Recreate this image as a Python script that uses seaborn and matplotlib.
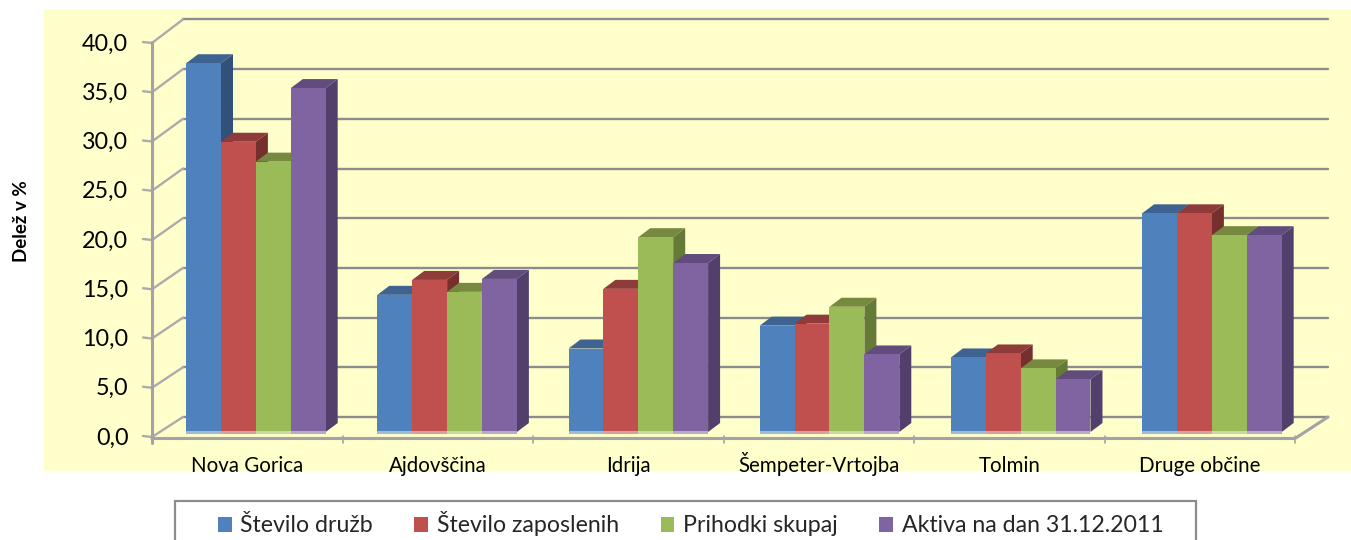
import matplotlib
matplotlib.use("Agg")
import matplotlib.pyplot as plt
import matplotlib.transforms as mtransforms
import pandas as pd
import seaborn as sns
from matplotlib.colors import to_rgb
from matplotlib.lines import Line2D
from matplotlib.patches import Patch, Polygon, Rectangle

W, H = 1351, 540

categories = ["Nova Gorica", "Ajdovščina", "Idrija", "Šempeter-Vrtojba", "Tolmin", "Druge občine"]
series_names = ["Število družb", "Število zaposlenih", "Prihodki skupaj", "Aktiva na dan 31.12.2011"]
stevilo_druzb = [37.1, 13.8, 8.4, 10.7, 7.5, 22.0]
stevilo_zaposlenih = [29.2, 15.3, 14.4, 10.9, 7.9, 22.0]
prihodki_skupaj = [27.2, 14.1, 19.6, 12.6, 6.4, 19.8]
aktiva = [34.6, 15.4, 17.0, 7.8, 5.3, 19.8]
y_ticks = [0, 5, 10, 15, 20, 25, 30, 35, 40]
y_tick_labels = ["0,0", "5,0", "10,0", "15,0", "20,0", "25,0", "30,0", "35,0", "40,0"]

front_colors = ["#4F81BD", "#C0504D", "#9BBB59", "#8064A2"]
top_colors = ["#3E6391", "#8E3B39", "#76893F", "#614C7D"]
side_colors = ["#325178", "#772F2D", "#667A38", "#533F6B"]
grid_grey = "#8C8C8C"
axis_grey = "#A3A3A3"

sns.set_style("white")
plt.rcParams["font.family"] = ["Lato", "DejaVu Sans"]

df = pd.DataFrame({"obcina": categories, series_names[0]: stevilo_druzb, series_names[1]: stevilo_zaposlenih,
                   series_names[2]: prihodki_skupaj, series_names[3]: aktiva})
df = df.melt(id_vars="obcina", var_name="serija", value_name="delez")


def px_box(left, top, right, bottom):
    # pixel box (from top left of the image) to figure fractions
    return [left / W, 1 - bottom / H, (right - left) / W, (bottom - top) / H]


def px(x, y):
    # pixel from top left to display coords
    return (x, H - y)


fig = plt.figure(figsize=(W / 100, H / 100), dpi=100, facecolor="white")
fig.patches.append(Rectangle((44 / W, 1 - 471 / H), (W - 44) / W, 462 / H, transform=fig.transFigure,
                             facecolor="#FFFFCC", edgecolor="none", zorder=-5))

# front axis: labels, ticks
ax_front = fig.add_axes(px_box(152, 42, 1295, 436))
ax_front.patch.set_visible(False)
ax_front.set_xlim(-0.5, 5.5)
ax_front.set_ylim(0, 40)
ax_front.set_xticks(range(len(categories)))
ax_front.set_xticklabels(categories, fontsize=14.8, color="black", va="baseline")
ax_front.set_yticks(y_ticks)
ax_front.set_yticklabels(y_tick_labels, fontsize=16.8, color="black")
ax_front.tick_params(axis="y", length=0, pad=17)
ax_front.tick_params(axis="x", length=0, pad=26)
for s in ax_front.spines.values():
    s.set_visible(False)
ax_front.set_ylabel("Delež v %", fontsize=13.5, fontweight="bold", color="black", labelpad=0)
ax_front.yaxis.set_label_coords((30 - 152) / (1295 - 152), (436 - 221) / (436 - 42))

# bars, on their own scale: they stand a little behind the front of the floor
ax = fig.add_axes(px_box(160.3, 34.4, 1307.5, 432))
ax.patch.set_visible(False)
sns.barplot(data=df, x="obcina", y="delez", hue="serija", order=categories, hue_order=series_names,
            palette=front_colors, width=0.73, gap=0, saturation=1, legend=False, ax=ax)
ax.set_xlim(-0.5, 5.5)
ax.set_ylim(0, 40)
ax.axis("off")

# back wall gridlines and the slanted links down to the front ticks
for v in y_ticks:
    yb = ax.transData.transform((0, v))[1] + 15
    yf = ax_front.transData.transform((0, v))[1]
    ax.add_line(Line2D([183, 1328], [yb, yb], transform=mtransforms.IdentityTransform(), color=grid_grey,
                       lw=1.7, zorder=1, clip_on=False))
    ax.add_line(Line2D([143, 152, 183], [yf, yf - 1, yb], transform=mtransforms.IdentityTransform(),
                       color="#ABABAB", lw=1.7, zorder=1, clip_on=False))

# floor front edge, y axis line, floor ticks
floor = [px(152, 438.5), px(1295, 438.5), px(1328, 417)]
ax.add_line(Line2D([p[0] for p in floor], [p[1] for p in floor], transform=mtransforms.IdentityTransform(),
                   color=axis_grey, lw=2.2, zorder=1.5, clip_on=False))
ax.add_line(Line2D([152, 152], [H - 42, H - 443], transform=mtransforms.IdentityTransform(),
                   color=axis_grey, lw=2.2, zorder=1.5, clip_on=False))
for i in range(7):
    xt = ax_front.transData.transform((i - 0.5, 0))[0]
    ax.add_line(Line2D([xt, xt], [H - 436, H - 443], transform=mtransforms.IdentityTransform(),
                       color=axis_grey, lw=1.2, zorder=1.5, clip_on=False))

# fake 3D: top and side faces worked out from each drawn bar
dx, dy = 12, 9
for i, cont in enumerate(ax.containers):
    for j, bar in enumerate(cont):
        (x0, y0), (x1, y1) = ax.transData.transform([(bar.get_x(), 0), (bar.get_x() + bar.get_width(), bar.get_height())])
        z = 3 + j * 10 + i
        bar.set_zorder(z + 0.5)
        bar.set_linewidth(0)
        ax.add_patch(Polygon([(x0, y1), (x1, y1), (x1 + dx, y1 + dy), (x0 + dx, y1 + dy)], closed=True,
                             transform=mtransforms.IdentityTransform(), facecolor=top_colors[i],
                             edgecolor="none", zorder=z, clip_on=False))
        ax.add_patch(Polygon([(x1, y0), (x1 + dx, y0 + dy), (x1 + dx, y1 + dy), (x1, y1)], closed=True,
                             transform=mtransforms.IdentityTransform(), facecolor=side_colors[i],
                             edgecolor="none", zorder=z, clip_on=False))
        light = tuple(c + (1 - c) * 0.45 for c in to_rgb(front_colors[i]))
        ax.add_patch(Rectangle((x0, y0 - 2), x1 - x0, 3, transform=mtransforms.IdentityTransform(),
                               facecolor=light, edgecolor="none", zorder=z + 0.6, clip_on=False))

# legend box runs off the bottom of the image
fig.patches.append(Rectangle((175 / W, -0.02), (1196 - 175) / W, 1 - 501 / H + 0.02, transform=fig.transFigure,
                             facecolor="white", edgecolor=grid_grey, lw=1.6, zorder=1))
handles = [Patch(facecolor=c, edgecolor="none", label=n) for c, n in zip(front_colors, series_names)]
fig.legend(handles=handles, ncol=4, frameon=False, loc="center", bbox_to_anchor=(690.5 / W, 1 - 524 / H),
           fontsize=16.7, handlelength=0.6, handleheight=0.62, handletextpad=0.36, columnspacing=1.8,
           borderpad=0, borderaxespad=0)

fig.savefig("out.png", dpi=100)
